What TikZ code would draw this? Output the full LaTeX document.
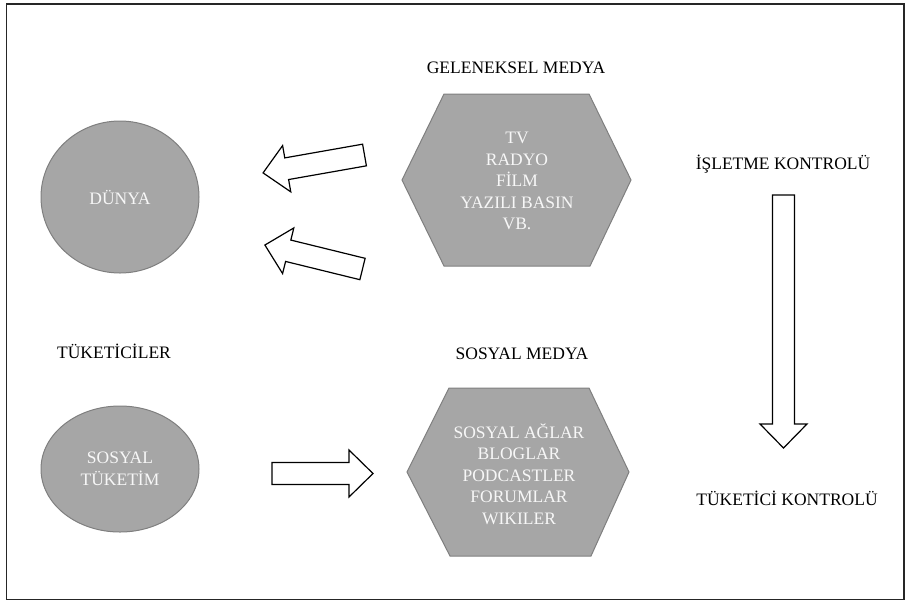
\documentclass[tikz,border=0pt]{standalone}
\usepackage{fontspec}
\setmainfont{Liberation Serif}
\definecolor{shapefill}{HTML}{A6A6A6}
\definecolor{shapeedge}{HTML}{7F7F7F}
\definecolor{inner}{HTML}{F7F7F7}
\tikzset{
  shapebox/.style={fill=shapefill, draw=shapeedge, line width=1pt},
  arrowbox/.style={draw=black, fill=white, line width=1.2pt, line join=miter},
  lbl/.style={font=\fontsize{17.5}{21.5}\selectfont, text=black, inner sep=0pt},
  inlbl/.style={font=\fontsize{17.5}{21.5}\selectfont, text=inner, align=center, inner sep=0pt},
}
% block arrow: tail centre (#1,#2), direction #3 (degrees), length #4
\newcommand{\blockarrow}[4]{%
  \begin{scope}[shift={(#1,#2)}, rotate=#3]
    \draw[arrowbox] (0,-11) -- (#4-24,-11) -- (#4-24,-23.5) -- (#4,0)
      -- (#4-24,23.5) -- (#4-24,11) -- (0,11) -- cycle;
  \end{scope}}
\begin{document}
\begin{tikzpicture}[x=1pt, y=-1pt]
  \useasboundingbox (0,0) rectangle (907,603);
  % outer frame
  \draw[line width=1.6pt, draw=black!85] (6.5,4) rectangle (904,599.5);

  % consumers
  \draw[shapebox] (120,197) ellipse [x radius=79, y radius=76];
  \node[inlbl] (dunya) at (120,197) {DÜNYA};
  \node[lbl] (tuketiciler) at (114,351) {TÜKETİCİLER};
  \draw[shapebox] (120,469) ellipse [x radius=79, y radius=63];
  \node[inlbl] (sostuk) at (120,469) {SOSYAL\\TÜKETİM};

  % traditional media
  \node[lbl] (geleneksel) at (516,68) {GELENEKSEL MEDYA};
  \draw[shapebox] (402,180) -- (444,94) -- (589,94) -- (631,180) -- (590,266) -- (444,266) -- cycle;
  \node[inlbl] (trad) at (517,181) {TV\\RADYO\\FİLM\\YAZILI BASIN\\VB.};

  % social media
  \node[lbl] (sosyalmedya) at (522,354) {SOSYAL MEDYA};
  \draw[shapebox] (407,472) -- (449,388) -- (589,388) -- (629,472) -- (591,556) -- (450,556) -- cycle;
  \node[inlbl] (social) at (519,474) {SOSYAL AĞLAR\\BLOGLAR\\PODCASTLER\\FORUMLAR\\WIKILER};

  % control axis
  \node[lbl] (isletme) at (783,164) {İŞLETME KONTROLÜ};
  \node[lbl] (tuketici) at (787,498) {TÜKETİCİ KONTROLÜ};

  % block arrows
  \blockarrow{364.5}{155}{190}{103}
  \blockarrow{362.5}{269}{166.2}{100.5}
  \blockarrow{272}{473.5}{0}{101}
  \blockarrow{783.5}{195}{-90}{253}
\end{tikzpicture}
\end{document}
